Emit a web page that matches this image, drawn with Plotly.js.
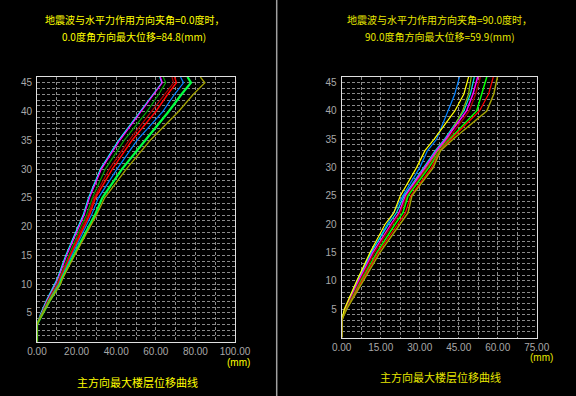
<!DOCTYPE html>
<html><head><meta charset="utf-8">
<script src="https://cdn.plot.ly/plotly-3.0.1.min.js"></script>
<style>html,body{margin:0;padding:0;background:#000;}#c{width:576px;height:396px;}</style>
</head><body><div id="c"></div>
<script>
// Left panel: angle 0.0
const LY = [0,3,4,5,7,10,11,15,20,22,25,30,35,40,43,45,46];
const L_cyan    = [0,0,1.0,2.0,4.5,9.0,10.3,14.5,20.5,23.3,26.0,32.0,41.2,52.2,58.5,63.0,62.0];
const L_magenta = [0,0,1.1,2.2,4.8,9.4,10.7,15.0,21.0,23.8,26.5,32.5,41.8,52.8,59.0,63.3,62.3];
const L_green   = [0,0,1.2,2.4,5.2,10.0,11.2,16.0,22.2,25.0,28.0,34.5,44.0,55.5,61.5,65.0,63.8];
const L_darkred = [0,0,1.3,2.6,5.5,10.4,11.6,16.6,23.0,25.8,28.8,36.5,46.5,58.0,64.5,69.0,68.2];
const L_red     = [0,0,1.3,2.7,5.7,10.6,11.8,17.0,23.5,26.5,29.5,38.0,48.0,60.0,66.0,70.4,69.5];
const L_blue    = [0,0,1.4,2.8,5.9,11.0,12.2,17.6,24.5,27.5,31.0,40.4,50.5,63.5,69.5,74.0,72.5];
const L_lime    = [0,0,1.5,3.0,6.2,11.6,12.6,18.5,26.0,29.2,33.0,42.9,54.7,66.5,73.0,77.8,76.0];
const L_olive   = [0,0,1.5,3.0,6.3,11.8,12.9,19.0,26.8,30.0,34.2,45.1,57.2,71.5,79.0,84.8,82.5];

// Right panel: angle 90.0
const RY = [0,3,4,5,10,15,20,22,25,30,33,35,40,43,46];
const R_blue    = [0,0,0.6,1.2,6.0,11.5,17.5,19.8,23.5,30.0,33.0,36.5,41.0,43.5,45.3];
const R_yellow  = [0,0,0.5,1.0,5.8,10.9,16.7,20.0,22.5,28.8,32.0,35.5,43.5,47.0,48.8];
const R_cyan    = [0,0,0.6,1.3,6.0,11.2,18.0,21.0,24.0,31.5,36.0,39.5,47.0,49.5,51.0];
const R_green   = [0,0,0.7,1.4,6.8,12.5,19.5,22.2,25.0,32.5,37.0,40.5,46.5,48.8,49.8];
const R_magenta = [0,0,0.7,1.5,6.5,12.0,19.0,22.0,24.5,32.0,36.5,40.0,48.0,50.5,52.3];
const R_darkred = [0,0,0.8,1.6,7.0,12.5,19.5,22.5,25.0,33.0,37.5,41.0,49.0,51.5,53.3];
const R_lime    = [0,0,0.8,1.8,7.5,13.5,20.5,23.5,25.5,33.5,37.8,41.5,51.9,54.0,55.8];
const R_red     = [0,0,0.9,1.8,7.8,14.0,21.5,24.5,26.5,34.5,37.8,42.0,53.0,56.5,58.3];
const R_olive   = [0,0,0.9,1.9,8.3,14.7,22.4,25.5,27.0,35.2,38.0,42.8,55.8,58.5,59.9];

const yTicks = [5,10,15,20,25,30,35,40,45];
const leftTitle1 = "地震波与水平力作用方向夹角=0.0度时，";
const leftTitle2 = "0.0度角方向最大位移=84.8(mm)";
const rightTitle1 = "地震波与水平力作用方向夹角=90.0度时，";
const rightTitle2 = "90.0度角方向最大位移=59.9(mm)";
const bottomTitle = "主方向最大楼层位移曲线";
const unitLabel = "(mm)";

function tr(x, y, color, w, xa, ya) {
  return {x: x, y: y, type: 'scatter', mode: 'lines', xaxis: xa, yaxis: ya,
          line: {color: color, width: w}, hoverinfo: 'skip', showlegend: false};
}
const traces = [
  tr(L_cyan, LY, '#00ffff', 1.2, 'x', 'y'),
  tr(L_magenta, LY, '#ff00ff', 1.2, 'x', 'y'),
  tr(L_green, LY, '#00a000', 1.2, 'x', 'y'),
  tr(L_darkred, LY, '#b00000', 1.2, 'x', 'y'),
  tr(L_red, LY, '#ff0000', 1.5, 'x', 'y'),
  tr(L_blue, LY, '#0080ff', 1.2, 'x', 'y'),
  tr(L_lime, LY, '#00ff40', 2.2, 'x', 'y'),
  tr(L_olive, LY, '#a0a000', 1.3, 'x', 'y'),
  tr(R_blue, RY, '#0080ff', 1.2, 'x2', 'y2'),
  tr(R_cyan, RY, '#00e0e0', 1.2, 'x2', 'y2'),
  tr(R_green, RY, '#80c000', 1.2, 'x2', 'y2'),
  tr(R_magenta, RY, '#ff00ff', 1.5, 'x2', 'y2'),
  tr(R_darkred, RY, '#a00000', 1.5, 'x2', 'y2'),
  tr(R_lime, RY, '#00ff00', 1.5, 'x2', 'y2'),
  tr(R_red, RY, '#ff0000', 1.2, 'x2', 'y2'),
  tr(R_yellow, RY, '#ffff00', 1.2, 'x2', 'y2'),
  tr(R_olive, RY, '#a0a000', 1.5, 'x2', 'y2')
];

const gridC = '#8a8a8a';
const tickFont = {family: 'Liberation Sans, Arial, sans-serif', size: 10, color: '#a8a8a8'};
function xAx(domain, range, dtick, minorDtick, anchor) {
  return {domain: domain, range: range, anchor: anchor, tickmode: 'linear', tick0: 0, dtick: dtick,
    tickformat: '.2f', showgrid: true, gridcolor: gridC, griddash: '3px,2px', gridwidth: 1,
    minor: {tickmode: 'linear', tick0: 0, dtick: minorDtick, showgrid: true, gridcolor: gridC, griddash: '3px,2px', gridwidth: 1},
    zeroline: false, showline: true, linecolor: '#e0e0e0', linewidth: 1, mirror: true,
    ticks: '', ticklabelstandoff: 0, tickfont: tickFont, fixedrange: true};
}
function yAx(domain, anchor) {
  return {domain: domain, range: [0, 46], anchor: anchor, tickmode: 'array', tickvals: yTicks,
    showgrid: true, gridcolor: gridC, griddash: '3px,2px', gridwidth: 1,
    minor: {tickmode: 'linear', tick0: 0, dtick: 1, showgrid: true, gridcolor: gridC, griddash: '3px,2px', gridwidth: 1},
    zeroline: false, showline: true, linecolor: '#e0e0e0', linewidth: 1, mirror: true,
    ticks: '', ticklabelstandoff: 2, tickfont: tickFont, fixedrange: true};
}

const yellowFont = {family: 'Noto Sans CJK SC, sans-serif', size: 10, color: '#ffff00'};
const yellowFont2 = {family: 'Noto Sans CJK SC, sans-serif', size: 10, color: '#e6e600'};
function ann(text, x, y, font) {
  return {text: text, x: x / 576, y: 1 - y / 396, xref: 'paper', yref: 'paper',
    xanchor: 'center', yanchor: 'middle', showarrow: false, font: font};
}
const layout = {
  width: 576, height: 396,
  paper_bgcolor: '#000000', plot_bgcolor: '#000000',
  margin: {l: 0, r: 0, t: 0, b: 0},
  showlegend: false,
  xaxis: xAx([37/576, 235/576], [0, 100], 20, 10, 'y'),
  yaxis: yAx([1 - 341.7/396, 1 - 77/396], 'x'),
  xaxis2: xAx([341.7/576, 536.7/576], [0, 75], 15, 7.5, 'y2'),
  yaxis2: yAx([1 - 337.5/396, 1 - 77/396], 'x2'),
  annotations: [
    ann(leftTitle1, 134, 20, yellowFont),
    ann(leftTitle2, 134, 36, yellowFont),
    ann(rightTitle1, 439, 20, yellowFont2),
    ann(rightTitle2, 440, 36, yellowFont2),
    ann(bottomTitle, 137, 382, Object.assign({}, yellowFont, {size: 11})),
    ann(bottomTitle, 440, 377, Object.assign({}, yellowFont2, {size: 11})),
    ann(unitLabel, 238, 362, Object.assign({}, yellowFont, {family: 'Liberation Sans, sans-serif'})),
    ann(unitLabel, 541, 357, Object.assign({}, yellowFont2, {family: 'Liberation Sans, sans-serif'}))
  ],
  shapes: [
    {type: 'line', xref: 'paper', yref: 'paper', x0: 276.7/576, x1: 276.7/576, y0: 0, y1: 1,
     line: {color: '#a0a0a0', width: 1.5}}
  ]
};
Plotly.newPlot('c', traces, layout, {staticPlot: true, displayModeBar: false});
</script>
</body></html>
